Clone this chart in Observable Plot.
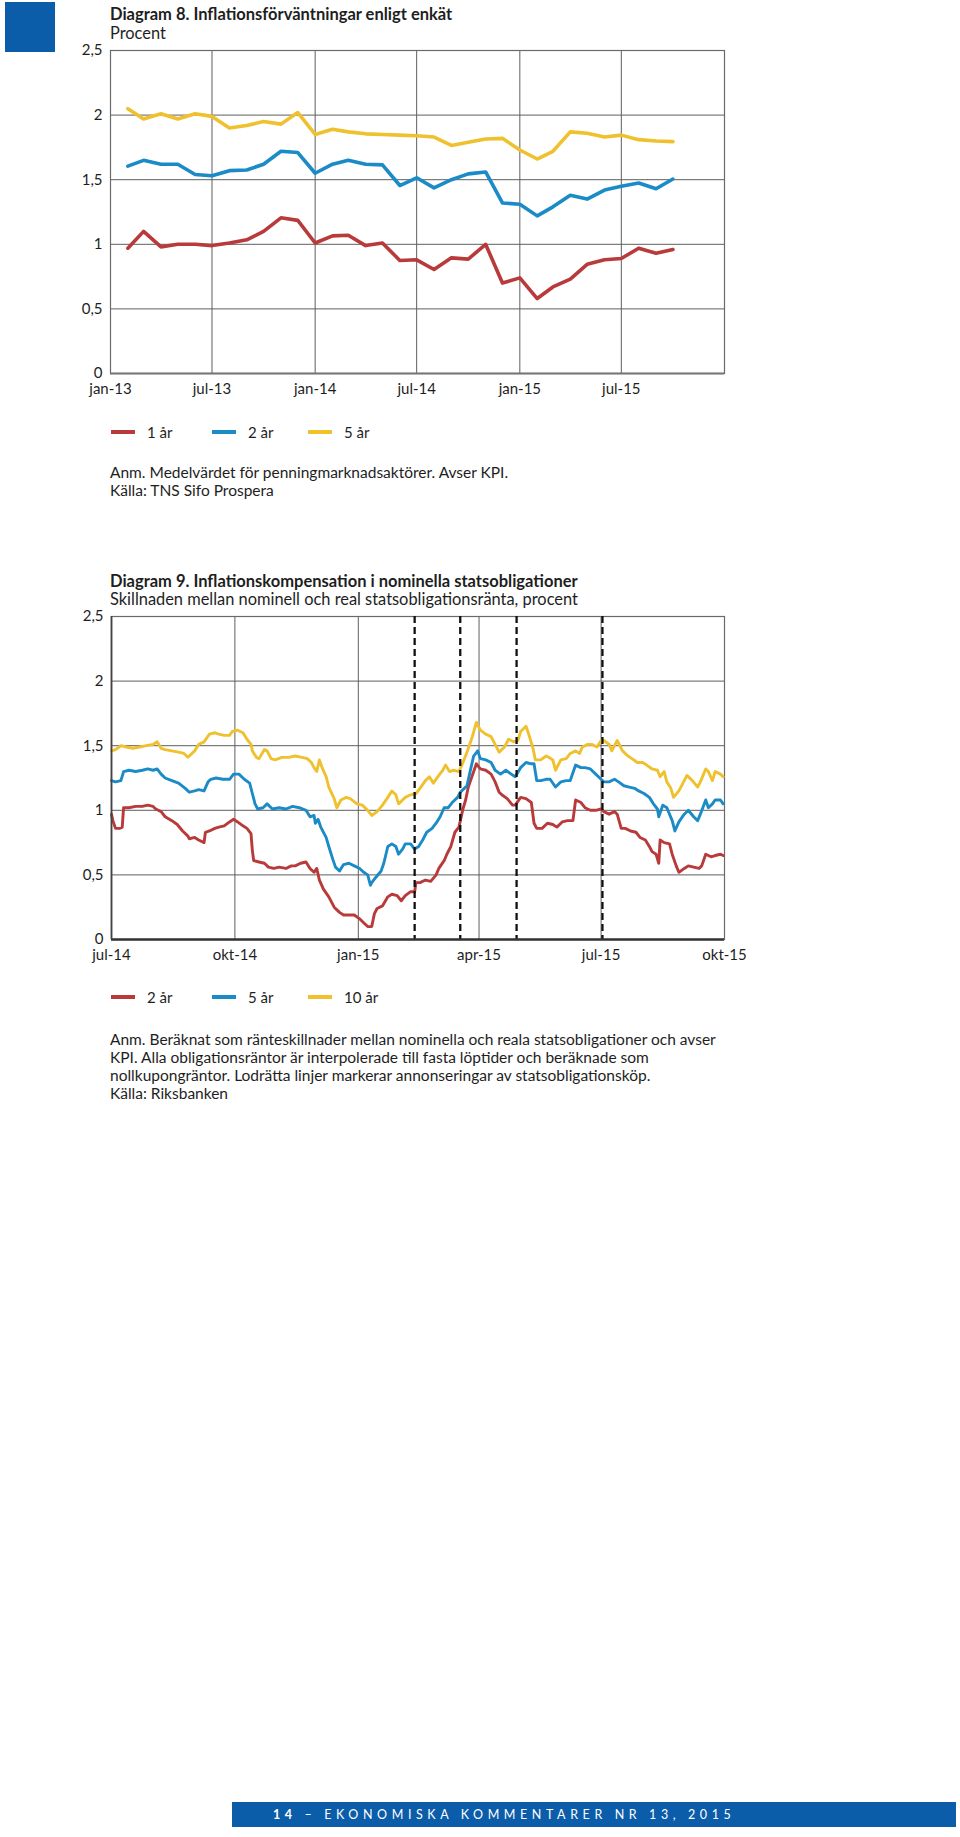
<!DOCTYPE html>
<html>
<head>
<meta charset="utf-8">
<script src="https://cdn.jsdelivr.net/npm/d3@7"></script>
<script src="https://cdn.jsdelivr.net/npm/@observablehq/plot@0.6"></script>
<style>
  html, body { margin: 0; padding: 0; background: #fff; }
  #page { position: relative; width: 960px; height: 1837px; font-family: Lato, "Open Sans", sans-serif; color: #1e1e1e; overflow: hidden; }
  .abs { position: absolute; }
  .title { font-weight: 700; font-size: 16.5px; line-height: 18px; white-space: nowrap; }
  .sub { font-size: 16.4px; line-height: 18px; white-space: nowrap; }
  .note { font-size: 15.5px; line-height: 18px; white-space: nowrap; }
  .legend { position: absolute; height: 18px; width: 400px; font-size: 15px; }
  .legend .item { position: absolute; top: 0; display: flex; align-items: center; height: 18px; }
  .legend .sw { width: 24px; height: 4px; margin-right: 12px; }
  #footer { background: #0b5ca9; color: #fff; display: flex; align-items: center; font-size: 12.5px; letter-spacing: 4.6px; white-space: nowrap; }
</style>
</head>
<body>
<div id="page">
  <div class="abs" style="left:5px;top:2px;width:50px;height:50px;background:#0b5ca9"></div>
  <div id="chart1" class="abs" style="left:0;top:0"></div>
  <div id="chart2" class="abs" style="left:0;top:560px"></div>

  <div class="abs title" style="left:110px;top:5px">Diagram 8. Inflationsförväntningar enligt enkät</div>
  <div class="abs sub" style="left:110px;top:24px">Procent</div>
  <div id="legend1" class="legend" style="left:0;top:423px"></div>
  <div class="abs note" style="left:110px;top:463px">Anm. Medelvärdet för penningmarknadsaktörer. Avser KPI.<br>Källa: TNS Sifo Prospera</div>

  <div class="abs title" style="left:110px;top:572px">Diagram 9. Inflationskompensation i nominella statsobligationer</div>
  <div class="abs sub" style="left:110px;top:590px">Skillnaden mellan nominell och real statsobligationsränta, procent</div>
  <div id="legend2" class="legend" style="left:0;top:988px"></div>
  <div class="abs note" style="left:110px;top:1030px">Anm. Beräknat som ränteskillnader mellan nominella och reala statsobligationer och avser<br>KPI. Alla obligationsräntor är interpolerade till fasta löptider och beräknade som<br>nollkupongräntor. Lodrätta linjer markerar annonseringar av statsobligationsköp.<br>Källa: Riksbanken</div>

  <div id="footer" class="abs" style="left:232px;top:1802px;width:724px;height:25px"><span style="padding-left:41px"><b>14</b> – EKONOMISKA KOMMENTARER NR 13, 2015</span></div>
</div>
<script>
// ---------- Colours ----------
const colRed = "#b83a3a", colBlue = "#1b8bc7", colYellow = "#f0c12f";

// ---------- Diagram 8 data (monthly survey, Feb 2013 – Oct 2015) ----------
const months8 = ["2013-02-01","2013-03-01","2013-04-01","2013-05-01","2013-06-01","2013-07-01","2013-08-01","2013-09-01","2013-10-01","2013-11-01","2013-12-01",
  "2014-01-01","2014-02-01","2014-03-01","2014-04-01","2014-05-01","2014-06-01","2014-07-01","2014-08-01","2014-09-01","2014-10-01","2014-11-01","2014-12-01",
  "2015-01-01","2015-02-01","2015-03-01","2015-04-01","2015-05-01","2015-06-01","2015-07-01","2015-08-01","2015-09-01","2015-10-01"];
const series8Names = ["1 år","2 år","5 år"];
const values8_1y = [0.97,1.10,0.98,1.00,1.00,0.99,1.01,1.035,1.10,1.205,1.185, 1.01,1.065,1.07,0.99,1.01,0.875,0.88,0.805,0.895,0.885,1.00,0.70, 0.74,0.58,0.67,0.73,0.845,0.88,0.89,0.97,0.93,0.96];
const values8_2y = [1.605,1.65,1.62,1.62,1.54,1.53,1.57,1.575,1.62,1.72,1.71, 1.55,1.62,1.65,1.62,1.615,1.455,1.515,1.437,1.50,1.545,1.56,1.32, 1.31,1.22,1.29,1.38,1.35,1.42,1.45,1.475,1.43,1.505];
const values8_5y = [2.05,1.97,2.01,1.97,2.01,1.99,1.90,1.92,1.95,1.93,2.02, 1.85,1.89,1.87,1.855,1.85,1.845,1.84,1.83,1.765,1.79,1.815,1.82, 1.73,1.66,1.72,1.87,1.86,1.83,1.845,1.81,1.80,1.795];
const ticks8 = ["2013-01-01","2013-07-01","2014-01-01","2014-07-01","2015-01-01","2015-07-01"];
const tickLabels8 = ["jan-13","jul-13","jan-14","jul-14","jan-15","jul-15"];

// ---------- Diagram 9 data (daily, Jul 2014 – Sep 2015) ----------
const series9Names = ["2 år","5 år","10 år"];
const dates9_2y = ["2014-07-01","2014-07-02","2014-07-04","2014-07-07","2014-07-09","2014-07-10","2014-07-14","2014-07-19","2014-07-24","2014-07-28",
 "2014-08-01","2014-08-03","2014-08-07","2014-08-10","2014-08-15","2014-08-19","2014-08-23","2014-08-27","2014-08-28",
 "2014-09-01","2014-09-04","2014-09-08","2014-09-09","2014-09-12","2014-09-16","2014-09-19","2014-09-23","2014-09-27","2014-09-30",
 "2014-10-03","2014-10-07","2014-10-10","2014-10-13","2014-10-14","2014-10-15","2014-10-19","2014-10-23","2014-10-26","2014-10-30",
 "2014-11-03","2014-11-08","2014-11-12","2014-11-15","2014-11-19","2014-11-23","2014-11-26","2014-11-29",
 "2014-12-01","2014-12-03","2014-12-06","2014-12-10","2014-12-14","2014-12-18","2014-12-21","2014-12-25","2014-12-29",
 "2015-01-02","2015-01-05","2015-01-08","2015-01-11","2015-01-13","2015-01-15","2015-01-19","2015-01-23","2015-01-26","2015-01-30",
 "2015-02-02","2015-02-05","2015-02-09","2015-02-12","2015-02-13","2015-02-16","2015-02-20","2015-02-24","2015-02-28",
 "2015-03-02","2015-03-06","2015-03-08","2015-03-11","2015-03-14","2015-03-17","2015-03-20","2015-03-22","2015-03-24","2015-03-27","2015-03-30",
 "2015-04-02","2015-04-06","2015-04-10","2015-04-13","2015-04-16","2015-04-18","2015-04-22","2015-04-26","2015-04-28",
 "2015-05-02","2015-05-06","2015-05-10","2015-05-12","2015-05-14","2015-05-18","2015-05-22","2015-05-26","2015-05-29",
 "2015-06-02","2015-06-06","2015-06-10","2015-06-12","2015-06-16","2015-06-19","2015-06-23","2015-06-27",
 "2015-07-01","2015-07-03","2015-07-07","2015-07-11","2015-07-13","2015-07-16","2015-07-19","2015-07-23","2015-07-27","2015-07-30",
 "2015-08-03","2015-08-06","2015-08-08","2015-08-11","2015-08-13","2015-08-14","2015-08-17","2015-08-21","2015-08-23","2015-08-26","2015-08-28",
 "2015-09-01","2015-09-04","2015-09-08","2015-09-12","2015-09-14","2015-09-17","2015-09-21","2015-09-24","2015-09-28","2015-09-30"];
const values9_2y = [0.97,0.92,0.86,0.86,0.87,1.02,1.02,1.03,1.03,1.04,
 1.03,1.01,0.99,0.95,0.92,0.89,0.84,0.80,0.78,
 0.79,0.77,0.75,0.83,0.84,0.86,0.87,0.88,0.91,0.93,
 0.91,0.88,0.86,0.82,0.69,0.61,0.60,0.59,0.56,0.55,
 0.56,0.55,0.57,0.57,0.59,0.60,0.55,0.52,
 0.55,0.46,0.39,0.33,0.25,0.21,0.19,0.19,0.19,
 0.16,0.13,0.10,0.10,0.20,0.24,0.26,0.33,0.35,0.34,
 0.30,0.34,0.37,0.37,0.44,0.44,0.46,0.45,0.50,
 0.55,0.61,0.66,0.72,0.83,0.87,1.01,1.08,1.18,1.27,1.36,
 1.32,1.31,1.28,1.22,1.14,1.12,1.09,1.04,1.04,
 1.10,1.09,1.06,0.90,0.86,0.86,0.90,0.89,0.87,
 0.91,0.92,0.92,1.08,1.06,1.02,1.00,1.00,
 1.01,0.99,0.97,0.99,0.97,0.86,0.86,0.84,0.83,0.79,
 0.77,0.72,0.68,0.66,0.59,0.77,0.75,0.74,0.66,0.57,0.52,
 0.55,0.57,0.56,0.55,0.57,0.66,0.64,0.65,0.66,0.65];

const dates9_5y = ["2014-07-01","2014-07-04","2014-07-08","2014-07-10","2014-07-14","2014-07-19","2014-07-24","2014-07-28",
 "2014-08-01","2014-08-04","2014-08-07","2014-08-10","2014-08-15","2014-08-20","2014-08-25","2014-08-28",
 "2014-09-01","2014-09-04","2014-09-08","2014-09-11","2014-09-13","2014-09-17","2014-09-22","2014-09-27","2014-09-30",
 "2014-10-04","2014-10-08","2014-10-12","2014-10-14","2014-10-16","2014-10-18","2014-10-22","2014-10-25","2014-10-29",
 "2014-11-03","2014-11-08","2014-11-13","2014-11-18","2014-11-23","2014-11-26","2014-11-29","2014-11-30",
 "2014-12-02","2014-12-04","2014-12-08","2014-12-10","2014-12-13","2014-12-15","2014-12-18","2014-12-21","2014-12-25","2014-12-29",
 "2015-01-02","2015-01-05","2015-01-08","2015-01-10","2015-01-11","2015-01-14","2015-01-18","2015-01-20","2015-01-23","2015-01-26","2015-01-29","2015-01-31",
 "2015-02-03","2015-02-05","2015-02-09","2015-02-12","2015-02-15","2015-02-18","2015-02-21","2015-02-25","2015-02-28",
 "2015-03-03","2015-03-06","2015-03-09","2015-03-12","2015-03-16","2015-03-18","2015-03-21","2015-03-23","2015-03-26","2015-03-28","2015-03-31",
 "2015-04-02","2015-04-06","2015-04-10","2015-04-13","2015-04-17","2015-04-21","2015-04-25","2015-04-28",
 "2015-05-02","2015-05-06","2015-05-10","2015-05-12","2015-05-14","2015-05-17","2015-05-21","2015-05-24","2015-05-28",
 "2015-06-01","2015-06-05","2015-06-08","2015-06-12","2015-06-16","2015-06-19","2015-06-23","2015-06-27",
 "2015-07-01","2015-07-03","2015-07-07","2015-07-11","2015-07-14","2015-07-18","2015-07-22","2015-07-26","2015-07-29",
 "2015-08-02","2015-08-06","2015-08-09","2015-08-12","2015-08-13","2015-08-16","2015-08-19","2015-08-23","2015-08-25","2015-08-28",
 "2015-09-01","2015-09-04","2015-09-08","2015-09-11","2015-09-13","2015-09-17","2015-09-19","2015-09-22","2015-09-24","2015-09-28","2015-09-30"];
const values9_5y = [1.23,1.22,1.23,1.30,1.31,1.30,1.31,1.32,
 1.31,1.32,1.28,1.25,1.23,1.21,1.17,1.14,
 1.15,1.16,1.15,1.22,1.24,1.25,1.24,1.24,1.28,
 1.28,1.24,1.21,1.13,1.05,1.01,1.02,1.05,1.01,
 1.02,1.01,1.03,1.02,1.00,0.95,0.96,0.90,
 0.93,0.87,0.79,0.72,0.62,0.56,0.53,0.58,0.59,0.57,
 0.55,0.52,0.50,0.42,0.44,0.48,0.53,0.59,0.72,0.74,0.72,0.66,
 0.70,0.74,0.74,0.70,0.72,0.77,0.83,0.86,0.90,
 0.95,1.02,1.02,1.06,1.10,1.14,1.17,1.19,1.33,1.42,1.46,
 1.40,1.39,1.37,1.31,1.28,1.31,1.28,1.26,
 1.33,1.37,1.36,1.36,1.23,1.23,1.24,1.24,1.18,
 1.22,1.23,1.23,1.35,1.33,1.33,1.32,1.28,
 1.24,1.22,1.22,1.24,1.22,1.19,1.18,1.17,1.15,
 1.13,1.10,1.05,1.01,0.95,1.04,1.02,0.92,0.84,0.91,
 0.97,1.00,0.95,0.92,0.97,1.08,1.02,1.05,1.08,1.08,1.05];

const dates9_10y = ["2014-07-01","2014-07-04","2014-07-08","2014-07-12","2014-07-17","2014-07-22","2014-07-27",
 "2014-08-01","2014-08-04","2014-08-07","2014-08-10","2014-08-15","2014-08-20","2014-08-24","2014-08-27",
 "2014-09-01","2014-09-04","2014-09-08","2014-09-12","2014-09-16","2014-09-19","2014-09-23","2014-09-27","2014-09-29",
 "2014-10-03","2014-10-07","2014-10-10","2014-10-13","2014-10-14","2014-10-17","2014-10-19","2014-10-23","2014-10-25","2014-10-28","2014-10-31",
 "2014-11-05","2014-11-10","2014-11-15","2014-11-20","2014-11-24","2014-11-27","2014-11-29",
 "2014-12-01","2014-12-03","2014-12-05","2014-12-08","2014-12-10","2014-12-14","2014-12-16","2014-12-19","2014-12-23","2014-12-26","2014-12-31",
 "2015-01-04","2015-01-08","2015-01-11","2015-01-15","2015-01-19","2015-01-23","2015-01-26","2015-01-29","2015-01-31",
 "2015-02-03","2015-02-05","2015-02-09","2015-02-13","2015-02-16","2015-02-20","2015-02-23","2015-02-26",
 "2015-03-02","2015-03-05","2015-03-07","2015-03-10","2015-03-13","2015-03-17","2015-03-20","2015-03-23","2015-03-27","2015-03-30",
 "2015-04-02","2015-04-06","2015-04-10","2015-04-13","2015-04-16","2015-04-20","2015-04-23","2015-04-27","2015-04-30",
 "2015-05-02","2015-05-06","2015-05-08","2015-05-11","2015-05-13","2015-05-17","2015-05-21","2015-05-23","2015-05-26","2015-05-28",
 "2015-06-01","2015-06-05","2015-06-08","2015-06-12","2015-06-15","2015-06-17","2015-06-21","2015-06-24","2015-06-28",
 "2015-07-01","2015-07-03","2015-07-07","2015-07-09","2015-07-13","2015-07-17","2015-07-21","2015-07-24","2015-07-28",
 "2015-08-01","2015-08-04","2015-08-08","2015-08-12","2015-08-14","2015-08-17","2015-08-19","2015-08-22","2015-08-24","2015-08-28",
 "2015-09-01","2015-09-03","2015-09-07","2015-09-11","2015-09-13","2015-09-17","2015-09-19","2015-09-22","2015-09-24","2015-09-28","2015-09-30"];
const values9_10y = [1.46,1.47,1.50,1.49,1.48,1.49,1.50,
 1.51,1.53,1.48,1.47,1.46,1.45,1.44,1.41,
 1.46,1.51,1.53,1.59,1.60,1.59,1.58,1.58,1.61,
 1.62,1.60,1.55,1.51,1.46,1.41,1.40,1.47,1.46,1.40,1.39,
 1.41,1.41,1.42,1.41,1.40,1.37,1.33,
 1.30,1.39,1.33,1.26,1.18,1.09,1.02,1.08,1.10,1.09,1.05,
 1.04,1.00,0.96,0.99,1.04,1.10,1.15,1.12,1.05,
 1.08,1.10,1.12,1.13,1.17,1.23,1.26,1.21,
 1.27,1.31,1.35,1.30,1.31,1.30,1.37,1.45,1.57,1.68,
 1.62,1.59,1.57,1.51,1.45,1.49,1.55,1.53,1.54,
 1.61,1.65,1.59,1.49,1.39,1.39,1.42,1.41,1.39,1.31,
 1.39,1.40,1.44,1.46,1.44,1.49,1.51,1.51,1.49,
 1.54,1.54,1.51,1.46,1.54,1.46,1.42,1.40,1.37,
 1.37,1.35,1.32,1.31,1.26,1.30,1.22,1.17,1.10,1.15,
 1.23,1.27,1.23,1.18,1.22,1.32,1.30,1.23,1.30,1.28,1.26];

const events9 = ["2015-02-12","2015-03-18","2015-04-29","2015-07-02"];
const ticks9 = ["2014-07-01","2014-10-01","2015-01-01","2015-04-01","2015-07-01","2015-10-01"];
const tickLabels9 = ["jul-14","okt-14","jan-15","apr-15","jul-15","okt-15"];
const yTicks = [0, 0.5, 1, 1.5, 2, 2.5];

// ---------- helpers ----------
const P = s => new Date(s + "T00:00:00Z");
const fmtY = d => String(d).replace(".", ",");
function rows(dates, values, name) { return dates.map((d, i) => ({date: P(d), value: values[i], series: name})); }
function labelMap(ticks, labels) { const m = new Map(); ticks.forEach((t, i) => m.set(+P(t), labels[i])); return d => m.get(+d) ?? ""; }

const commonStyle = {fontFamily: "Lato, 'Open Sans', sans-serif", fontSize: "15px", color: "#1e1e1e", background: "transparent", overflow: "visible"};

// ---------- Diagram 8 ----------
const data8 = [
  ...rows(months8, values8_1y, series8Names[0]),
  ...rows(months8, values8_2y, series8Names[1]),
  ...rows(months8, values8_5y, series8Names[2])
];
const colors8 = {[series8Names[0]]: colRed, [series8Names[1]]: colBlue, [series8Names[2]]: colYellow};
const tickDates8 = ticks8.map(P);
const chart1 = Plot.plot({
  width: 960, height: 400,
  marginLeft: 110, marginRight: 236, marginTop: 50, marginBottom: 27,
  style: commonStyle,
  x: {type: "utc", domain: [P("2013-01-01"), P("2016-01-01")], ticks: tickDates8, tickFormat: labelMap(ticks8, tickLabels8), tickSize: 0, tickPadding: 10, label: null},
  y: {domain: [0, 2.5], ticks: yTicks, tickFormat: fmtY, tickSize: 0, tickPadding: 8, label: null},
  marks: [
    Plot.gridX(tickDates8.slice(1), {stroke: "#5e5e5e", strokeOpacity: 1, strokeWidth: 1}),
    Plot.gridY([0.5, 1, 1.5, 2], {stroke: "#5e5e5e", strokeOpacity: 1, strokeWidth: 1}),
    Plot.frame({stroke: "#6a6a6a", strokeWidth: 1.2}),
    Plot.ruleY([0], {stroke: "#777", strokeWidth: 1.8}),
    ...series8Names.map(n => Plot.line(data8.filter(r => r.series === n), {x: "date", y: "value", stroke: colors8[n], strokeWidth: 3.6, strokeLinejoin: "round", strokeLinecap: "round"}))
  ]
});
document.getElementById("chart1").appendChild(chart1);

// ---------- Diagram 9 ----------
const data9 = [
  ...rows(dates9_2y, values9_2y, series9Names[0]),
  ...rows(dates9_5y, values9_5y, series9Names[1]),
  ...rows(dates9_10y, values9_10y, series9Names[2])
];
const colors9 = {[series9Names[0]]: colRed, [series9Names[1]]: colBlue, [series9Names[2]]: colYellow};
const tickDates9 = ticks9.map(P);
const chart2 = Plot.plot({
  width: 960, height: 406,
  marginLeft: 111, marginRight: 236, marginTop: 56, marginBottom: 27,
  style: commonStyle,
  x: {type: "utc", domain: [P("2014-07-01"), P("2015-10-01")], ticks: tickDates9, tickFormat: labelMap(ticks9, tickLabels9), tickSize: 0, tickPadding: 10, label: null},
  y: {domain: [0, 2.5], ticks: yTicks, tickFormat: fmtY, tickSize: 0, tickPadding: 8, label: null},
  marks: [
    Plot.gridX(tickDates9.slice(1, -1), {stroke: "#5e5e5e", strokeOpacity: 1, strokeWidth: 1}),
    Plot.gridY([0.5, 1, 1.5, 2], {stroke: "#5e5e5e", strokeOpacity: 1, strokeWidth: 1}),
    Plot.frame({stroke: "#6a6a6a", strokeWidth: 1.2}),
    ...series9Names.map(n => Plot.line(data9.filter(r => r.series === n), {x: "date", y: "value", stroke: colors9[n], strokeWidth: 2.9, strokeLinejoin: "round"})),
    Plot.ruleX(events9.map(P), {stroke: "#111", strokeWidth: 2.3, strokeDasharray: "7,4"}),
    Plot.ruleY([0], {stroke: "#333", strokeWidth: 2.6}),
    Plot.ruleX([P("2014-07-01")], {stroke: "#444", strokeWidth: 1.8})
  ]
});
document.getElementById("chart2").appendChild(chart2);

// ---------- Legends ----------
const legendX = [111, 212, 308];
function legend(el, names, colors) {
  const root = document.getElementById(el);
  names.forEach((n, i) => {
    const item = document.createElement("div");
    item.className = "item";
    item.style.left = legendX[i] + "px";
    const sw = document.createElement("div");
    sw.className = "sw"; sw.style.background = colors[n];
    const t = document.createElement("span"); t.textContent = n;
    item.appendChild(sw); item.appendChild(t); root.appendChild(item);
  });
}
legend("legend1", series8Names, colors8);
legend("legend2", series9Names, colors9);
</script>
</body>
</html>
